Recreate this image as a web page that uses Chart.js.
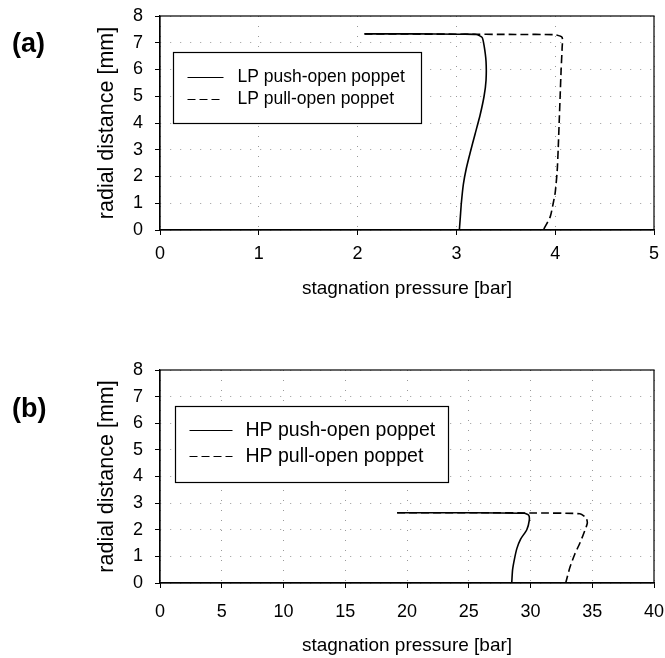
<!DOCTYPE html>
<html>
<head>
    <meta charset="UTF-8">
    <title>Stagnation pressure profiles</title>
    <script src="https://cdn.jsdelivr.net/npm/chart.js"></script>
    <style>
        body { margin: 0; background: #fff; }
        #page { position: relative; width: 665px; height: 658px; }
        .panel { position: absolute; left: 0; width: 665px; }
        .tag { position: absolute; left: 12px; font: bold 27px "Liberation Sans", Arial, sans-serif; color: #000; }
    </style>
</head>
<body>
<div id="page">
    <div class="panel" style="top:0;height:330px"><canvas id="chartA"></canvas></div>
    <div class="panel" style="top:330px;height:328px"><canvas id="chartB"></canvas></div>
    <div class="tag" style="top:28px">(a)</div>
    <div class="tag" style="top:393px">(b)</div>
</div>

<script>
    // low pressure valve: stagnation pressure [bar] vs radial distance [mm]
    var lpPushPressure = [2.07, 2.6, 3.0, 3.2, 3.26, 3.28, 3.30, 3.30, 3.28, 3.24, 3.19, 3.14, 3.10, 3.07, 3.05, 3.04, 3.03];
    var lpPushRadius   = [7.33, 7.33, 7.32, 7.31, 7.2, 6.9, 6.3, 5.6, 5.0, 4.3, 3.6, 2.9, 2.3, 1.7, 1.0, 0.5, 0];
    var lpPullPressure = [2.07, 3.0, 3.6, 4.0, 4.07, 4.07, 4.06, 4.05, 4.04, 4.03, 4.02, 4.0, 3.98, 3.95, 3.88];
    var lpPullRadius   = [7.33, 7.32, 7.31, 7.30, 7.2, 6.8, 6.0, 5.0, 4.0, 3.0, 2.2, 1.4, 1.0, 0.5, 0];

    // high pressure valve
    var hpPushPressure = [19.2, 25, 29.5, 29.85, 29.9, 29.7, 29.2, 28.9, 28.7, 28.55, 28.48];
    var hpPushRadius   = [2.64, 2.64, 2.62, 2.55, 2.35, 2.0, 1.65, 1.3, 0.9, 0.5, 0];
    var hpPullPressure = [19.2, 26, 30, 34.0, 34.5, 34.6, 34.3, 34.0, 33.6, 33.2, 32.85];
    var hpPullRadius   = [2.64, 2.64, 2.63, 2.60, 2.45, 2.25, 1.85, 1.5, 1.1, 0.6, 0];

    var yTicks = [0, 1, 2, 3, 4, 5, 6, 7, 8];

    var FONT = '"Liberation Sans", Arial, sans-serif';
    Chart.defaults.font.family = FONT;
    Chart.defaults.color = '#000';

    function toPoints(xs, ys) {
        return xs.map(function (x, i) { return {x: x, y: ys[i]}; });
    }

    // black frame round the plot area
    var frame = {
        id: 'frame',
        afterDatasetsDraw: function (chart) {
            var a = chart.chartArea, ctx = chart.ctx;
            ctx.save();
            ctx.strokeStyle = '#000';
            ctx.lineWidth = 1.2;
            ctx.strokeRect(a.left, a.top, a.right - a.left, a.bottom - a.top);
            ctx.restore();
        }
    };

    // legend drawn in a boxed panel inside the plot area
    var boxLegend = {
        id: 'boxLegend',
        afterDraw: function (chart, args, o) {
            var ctx = chart.ctx, a = chart.chartArea;
            var x0 = Math.round(a.left + o.left) + 0.5, y0 = Math.round(a.top + o.top) + 0.5;
            ctx.save();
            ctx.fillStyle = '#fff';
            ctx.fillRect(x0, y0, o.width, o.height);
            ctx.strokeStyle = '#000';
            ctx.lineWidth = 1.2;
            ctx.strokeRect(x0, y0, o.width, o.height);
            ctx.font = o.size + 'px ' + FONT;
            ctx.textBaseline = 'middle';
            chart.data.datasets.forEach(function (ds, i) {
                var y = y0 + o.firstRow + i * o.rowGap;
                ctx.setLineDash(ds.borderDash || []);
                ctx.lineWidth = 1;
                ctx.beginPath();
                ctx.moveTo(x0 + o.lineStart, y);
                ctx.lineTo(x0 + o.lineStart + o.lineLen, y);
                ctx.stroke();
                ctx.setLineDash([]);
                ctx.fillStyle = '#000';
                ctx.fillText(ds.label, x0 + o.textStart, y);
            });
            ctx.restore();
        }
    };

    function makeChart(id, cfg) {
        var grid = {
            color: 'rgba(0,0,0,0.4)',
            lineWidth: 1,
            tickLength: 5,
            tickColor: '#000',
            tickBorderDash: []
        };
        var border = {color: '#000', width: 1.2, dash: [1, 9]};
        return new Chart(document.getElementById(id), {
            type: 'scatter',
            data: {
                datasets: [
                    {
                        label: cfg.names[0],
                        data: toPoints(cfg.push[0], cfg.push[1]),
                        showLine: true,
                        borderColor: '#000',
                        borderWidth: 1.6,
                        pointRadius: 0,
                        tension: 0.2
                    },
                    {
                        label: cfg.names[1],
                        data: toPoints(cfg.pull[0], cfg.pull[1]),
                        showLine: true,
                        borderColor: '#000',
                        borderWidth: 1.6,
                        borderDash: [8, 4],
                        pointRadius: 0,
                        tension: 0.2
                    }
                ]
            },
            options: {
                responsive: true,
                maintainAspectRatio: false,
                animation: false,
                layout: {padding: {left: 0, right: 11, top: cfg.top, bottom: 0}},
                plugins: {
                    legend: {display: false},
                    tooltip: {enabled: false},
                    boxLegend: cfg.legend
                },
                scales: {
                    x: {
                        type: 'linear',
                        min: 0,
                        max: cfg.xMax,
                        ticks: {stepSize: cfg.xStep, padding: cfg.xTickPad, font: {size: 18}, maxRotation: 0},
                        grid: grid,
                        border: border,
                        title: {display: true, text: 'stagnation pressure [bar]', font: {size: 19}, padding: {top: 0, bottom: cfg.xTitlePad}},
                        afterFit: function (s) {
                            s.height = cfg.xHeight;
                            s.paddingLeft = 0;
                            s.paddingRight = 0;
                        }
                    },
                    y: {
                        type: 'linear',
                        min: 0,
                        max: 8,
                        afterBuildTicks: function (s) { s.ticks = yTicks.map(function (v) { return {value: v}; }); },
                        ticks: {padding: 12, font: {size: 18}},
                        grid: grid,
                        border: border,
                        title: {display: true, text: 'radial distance [mm]', font: {size: 21.5}, padding: {top: 94, bottom: 0}},
                        afterFit: function (s) {
                            s.width = 160;
                            // the top label may overhang the layout padding
                            s.paddingTop = 0;
                        }
                    }
                }
            },
            plugins: [frame, boxLegend]
        });
    }

    makeChart('chartA', {
        names: ['LP push-open poppet', 'LP pull-open poppet'],
        push: [lpPushPressure, lpPushRadius],
        pull: [lpPullPressure, lpPullRadius],
        xMax: 5, xStep: 1, top: 16, xHeight: 100, xTickPad: 8, xTitlePad: 30,
        legend: {left: 13, top: 36, width: 248, height: 71, size: 17.5, firstRow: 25, rowGap: 22, lineStart: 14, lineLen: 36, textStart: 64}
    });

    makeChart('chartB', {
        names: ['HP push-open poppet', 'HP pull-open poppet'],
        push: [hpPushPressure, hpPushRadius],
        pull: [hpPullPressure, hpPullRadius],
        xMax: 40, xStep: 5, top: 40, xHeight: 75, xTickPad: 13, xTitlePad: 1,
        legend: {left: 15, top: 36, width: 273, height: 76, size: 19.5, firstRow: 24, rowGap: 26, lineStart: 14, lineLen: 43, textStart: 70}
    });
</script>
</body>
</html>
